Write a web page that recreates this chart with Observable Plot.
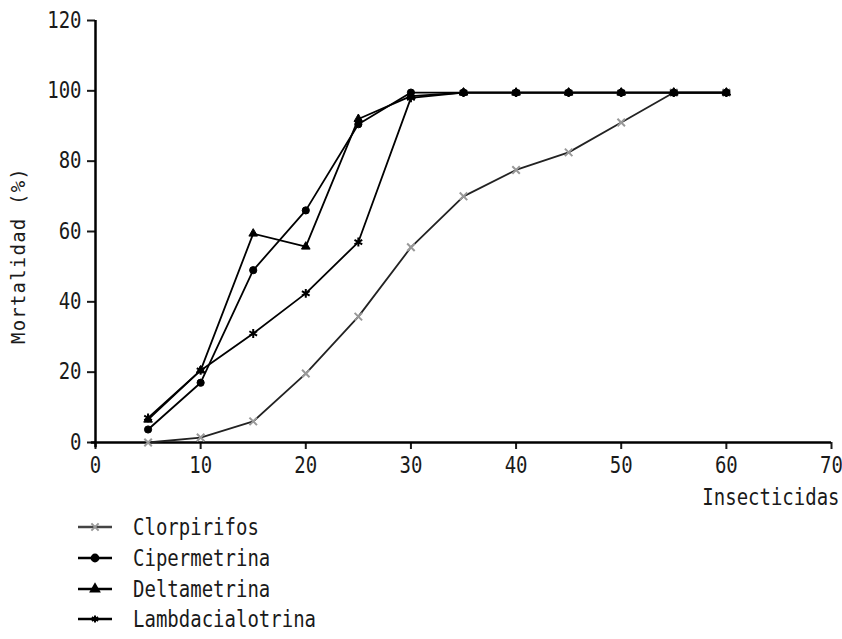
<!DOCTYPE html>
<html>
<head>
<meta charset="utf-8">
<script src="https://cdn.jsdelivr.net/npm/d3@7"></script>
<script src="https://cdn.jsdelivr.net/npm/@observablehq/plot@0.6"></script>
<style>
  body { margin: 0; background: #fff; font-family: "DejaVu Sans Mono", monospace; }
  #chart svg { display: block; }
  #legend { margin-left: 76px; margin-top: 0px; }
  .item { display: flex; align-items: center; height: 30.7px; font-size: 19px; color: #1a1a1a; }
  .item svg { margin-right: 19px; }
  .item span { display: inline-block; transform: scaleY(1.2); }
</style>
</head>
<body>
<div id="chart"></div>
<div id="legend"></div>
<script>
const dosis = [5, 10, 15, 20, 25, 30, 35, 40, 45, 50, 55, 60];
const clorpirifos = [0, 1.4, 6, 19.6, 35.8, 55.5, 70, 77.5, 82.5, 91, 99.5, 99.5];
const cipermetrina = [3.7, 17, 49, 66, 90.5, 99.5, 99.5, 99.5, 99.5, 99.5, 99.5, 99.5];
const deltametrina = [6.5, 20.5, 59.4, 55.7, 92, 98.5, 99.5, 99.5, 99.5, 99.5, 99.5, 99.5];
const lambdacialotrina = [7, 20.5, 31, 42.4, 57, 98, 99.5, 99.5, 99.5, 99.5, 99.5, 99.5];

const series = [
  {name: "Clorpirifos", values: clorpirifos, line: "#222", marker: "#999", symbol: "times", filled: false, r: 3.5},
  {name: "Cipermetrina", values: cipermetrina, line: "#000", marker: "#000", symbol: "circle", filled: true, r: 3.6},
  {name: "Deltametrina", values: deltametrina, line: "#000", marker: "#000", symbol: "triangle", filled: true, r: 3.2},
  {name: "Lambdacialotrina", values: lambdacialotrina, line: "#000", marker: "#000", symbol: "asterisk", filled: false, r: 4.2}
];

const rows = series.map(s => dosis.map((d, i) => ({serie: s.name, x: d, y: s.values[i]})));

const marks = [];
series.forEach((s, k) => {
  marks.push(Plot.line(rows[k], {x: "x", y: "y", stroke: s.line, strokeWidth: 1.8}));
});
[0, 2, 3, 1].forEach(k => {
  const s = series[k];
  marks.push(Plot.dot(rows[k], {x: "x", y: "y", symbol: () => s.symbol, r: s.r,
    fill: s.filled ? s.marker : "none",
    stroke: s.marker, strokeWidth: s.filled ? 1 : 2}));
});

const chart = Plot.plot({
  width: 842,
  height: 512,
  marginLeft: 95,
  marginRight: 11,
  marginTop: 20,
  marginBottom: 70,
  style: {fontFamily: "DejaVu Sans Mono, monospace", fontSize: "19px", color: "#1a1a1a", background: "#fff"},
  x: {domain: [0, 70], ticks: d3.range(0, 71, 10), tickSize: 7, tickPadding: 7, label: "Insecticidas", labelAnchor: "right", labelOffset: 62, labelArrow: "none"},
  y: {domain: [0, 120], ticks: d3.range(0, 121, 20), tickSize: 8, tickPadding: 6, label: "Mortalidad (%)", labelAnchor: "center", labelOffset: 84, labelArrow: "none"},
  marks: [
    Plot.ruleX([0], {stroke: "#000", strokeWidth: 2.5, y1: -1.5, y2: 120}),
    Plot.ruleY([0], {stroke: "#000", strokeWidth: 2.5, x1: -0.4, x2: 70}),
    ...marks
  ]
});
chart.querySelectorAll('g[aria-label$="tick"]').forEach(e => e.setAttribute("stroke-width", "2"));
// y label: move down a little and widen spacing
chart.querySelectorAll('g[aria-label="y-axis label"] text').forEach(t => {
  t.setAttribute("dx", "-24");
  t.setAttribute("letter-spacing", "1.2");
});
// other texts: vertical stretch like the reference lettering
chart.querySelectorAll('text').forEach(t => {
  if (t.closest('g[aria-label="y-axis label"]')) return;
  const tr = t.getAttribute("transform");
  if (tr) t.setAttribute("transform", tr + " scale(1,1.2)");
  else { t.style.transformBox = "fill-box"; t.style.transformOrigin = "center"; t.style.transform = "scaleY(1.2)"; }
});
document.getElementById("chart").appendChild(chart);

const legend = document.getElementById("legend");
const ns = "http://www.w3.org/2000/svg";
const symbols = {circle: d3.symbolCircle, triangle: d3.symbolTriangle, asterisk: d3.symbolAsterisk, times: d3.symbolTimes};
series.forEach(s => {
  const div = document.createElement("div");
  div.className = "item";
  const svg = document.createElementNS(ns, "svg");
  svg.setAttribute("width", 38); svg.setAttribute("height", 14);
  const ln = document.createElementNS(ns, "line");
  ln.setAttribute("x1", 2); ln.setAttribute("x2", 36); ln.setAttribute("y1", 7); ln.setAttribute("y2", 7);
  ln.setAttribute("stroke", s.name === "Clorpirifos" ? "#444" : "#000"); ln.setAttribute("stroke-width", 2.5);
  svg.appendChild(ln);
  const sym = d3.symbol(symbols[s.symbol], s.symbol === "triangle" ? 30 : 36)();
  const p = document.createElementNS(ns, "path");
  p.setAttribute("d", sym); p.setAttribute("transform", "translate(19,7)");
  p.setAttribute("fill", s.filled ? s.marker : "none");
  p.setAttribute("stroke", s.marker); p.setAttribute("stroke-width", 2);
  svg.appendChild(p);
  div.appendChild(svg);
  const t = document.createElement("span");
  t.textContent = s.name;
  div.appendChild(t);
  legend.appendChild(div);
});
</script>
</body>
</html>
